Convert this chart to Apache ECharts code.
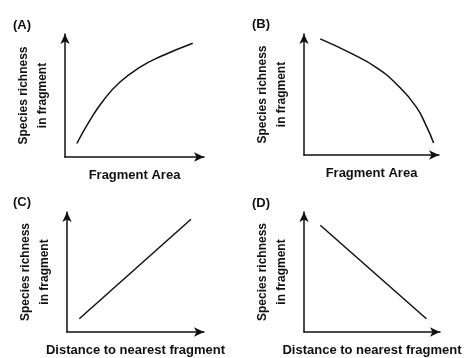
<!DOCTYPE html>
<html>
<head>
<meta charset="utf-8">
<script src="https://cdn.jsdelivr.net/npm/echarts@6/dist/echarts.min.js"></script>
<style>
html,body{margin:0;padding:0;background:#fff;}
#main{width:468px;height:358px;}
</style>
</head>
<body>
<div id="main"></div>
<script>
//面板标签
var panelNames=['(A)','(B)','(C)','(D)'];
var yTitle='Species richness\nin fragment';
var xTitles=['Fragment Area','Fragment Area','Distance to nearest fragment','Distance to nearest fragment'];
//A: 物种数随面积增加
var areaXA=[0.85,1.8,2.76,3.96,5.4,6.83,9.19];
var richA=[1.1,3.0,4.6,6.1,7.3,8.15,9.25];
//B: 物种数随面积减少
var areaXB=[1.2,3.5,5.4,6.9,8.3,9.1,9.6];
var richB=[9.6,8.4,7.2,5.8,4.0,2.3,1.0];
//C: 随距离增加
var distC=[0.9,9.05];
var richC=[1.1,9.4];
//D: 随距离减少
var distD=[1.2,9.0];
var richD=[8.9,1.1];

var xs=[areaXA,areaXB,distC,distD];
var ys=[richA,richB,richC,richD];
var smoothFlag=[true,true,false,false];

var grids=[
	{left:65,top:34,width:139,height:123},
	{left:304,top:34,width:135,height:121},
	{left:67,top:212,width:137,height:122},
	{left:304,top:212,width:136,height:123}
];
var labelPos=[[8,14],[247,13],[8,191],[247,192]];

var axisLine={show:true,onZero:false,symbol:['none','arrow'],symbolSize:[7,10],lineStyle:{color:'#111',width:1.5}};
var font='"Liberation Sans", Arial, sans-serif';

var titles=[],xAxes=[],yAxes=[],series=[];
for(var i=0;i<4;i++){
	titles.push({text:panelNames[i],left:labelPos[i][0],top:labelPos[i][1],textStyle:{fontSize:13,fontWeight:'bold',color:'#111',fontFamily:font}});
	xAxes.push({gridIndex:i,type:'value',min:0,max:10,axisLine:axisLine,axisTick:{show:false},axisLabel:{show:false},splitLine:{show:false},
		name:xTitles[i],nameLocation:'middle',nameGap:12,nameTextStyle:{fontSize:13,fontWeight:'bold',color:'#111',fontFamily:font}});
	yAxes.push({gridIndex:i,type:'value',min:0,max:10,axisLine:axisLine,axisTick:{show:false},axisLabel:{show:false},splitLine:{show:false},
		name:yTitle,nameLocation:'middle',nameRotate:90,nameGap:13,nameTextStyle:{fontSize:12,fontWeight:'bold',color:'#111',fontFamily:font,lineHeight:19}});
	var d=[];
	for(var j=0;j<xs[i].length;j++){
		d.push([xs[i][j],ys[i][j]]);
	}
	series.push({type:'line',xAxisIndex:i,yAxisIndex:i,data:d,smooth:smoothFlag[i]?0.5:false,showSymbol:false,
		lineStyle:{color:'#111',width:1.5},animation:false});
}

var myChart=echarts.init(document.getElementById('main'));
myChart.setOption({
	backgroundColor:'#fff',
	animation:false,
	title:titles,
	grid:grids,
	xAxis:xAxes,
	yAxis:yAxes,
	series:series
});
</script>
</body>
</html>
